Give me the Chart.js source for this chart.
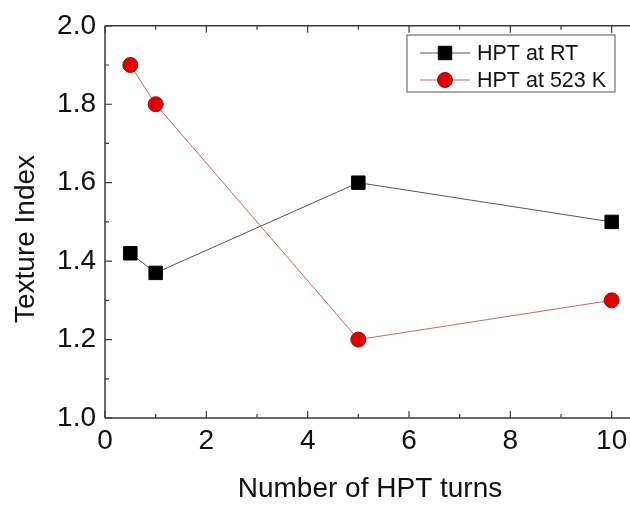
<!DOCTYPE html>
<html><head><meta charset="utf-8">
<script src="https://cdn.jsdelivr.net/npm/chart.js@4/dist/chart.umd.min.js"></script>
<style>
html,body{margin:0;padding:0;overflow:hidden;background:#fff;width:630px;height:506px}
#wrap{position:relative;width:660px;height:506px}
canvas{display:block}
</style>
</head><body><div id="wrap"><canvas id="c" width="660" height="506"></canvas></div>
<script>
const turns = [0.5, 1, 5, 10];
const textureRT = [1.42, 1.37, 1.6, 1.5];
const texture523K = [1.9, 1.8, 1.2, 1.3];
const seriesNames = ['HPT at RT', 'HPT at 523 K'];
const xTicks = [0, 2, 4, 6, 8, 10];
const yTicks = [1.0, 1.2, 1.4, 1.6, 1.8, 2.0];
const xTitle = 'Number of HPT turns';
const yTitle = 'Texture Index';

const FONT = "'Liberation Sans', Arial, sans-serif";
const AXIS = '#3a3a3a';

const toPts = (xs, ys) => xs.map((x, i) => ({x: x, y: ys[i]}));

const frame = {
  id: 'frame',
  afterDraw(chart) {
    const ctx = chart.ctx, a = chart.chartArea;
    const xs = chart.scales.x, ys = chart.scales.y;
    ctx.save();
    ctx.strokeStyle = AXIS;
    ctx.lineWidth = 1.5;
    ctx.beginPath();
    ctx.moveTo(a.left, a.top); ctx.lineTo(a.right, a.top);
    ctx.moveTo(a.left, a.top); ctx.lineTo(a.left, a.bottom);
    ctx.moveTo(a.left, a.bottom); ctx.lineTo(a.right, a.bottom);
    ctx.moveTo(a.right, a.top); ctx.lineTo(a.right, a.bottom);
    ctx.stroke();
    ctx.lineWidth = 1.2;
    ctx.beginPath();
    for (let i = 0; i < xTicks.length; i++) {
      const v = xTicks[i];
      const px = xs.getPixelForValue(v);
      ctx.moveTo(px, a.bottom); ctx.lineTo(px, a.bottom - 7);
      ctx.moveTo(px, a.top); ctx.lineTo(px, a.top + 7);
      if (i < xTicks.length - 1) {
        const m = xs.getPixelForValue((v + xTicks[i + 1]) / 2);
        ctx.moveTo(m, a.bottom); ctx.lineTo(m, a.bottom - 4);
        ctx.moveTo(m, a.top); ctx.lineTo(m, a.top + 4);
      }
    }
    for (let i = 0; i < yTicks.length; i++) {
      const v = yTicks[i];
      const py = ys.getPixelForValue(v);
      ctx.moveTo(a.left, py); ctx.lineTo(a.left + 7, py);
      if (i < yTicks.length - 1) {
        const m = ys.getPixelForValue((v + yTicks[i + 1]) / 2);
        ctx.moveTo(a.left, m); ctx.lineTo(a.left + 4, m);
      }
    }
    ctx.stroke();

    ctx.fillStyle = '#111';
    ctx.font = '28px ' + FONT;
    ctx.textAlign = 'center';
    ctx.textBaseline = 'middle';
    ctx.fillText(xTitle, 370, 489);
    ctx.save();
    ctx.translate(26, 239);
    ctx.rotate(-Math.PI / 2);
    ctx.fillText(yTitle, 0, 0);
    ctx.restore();

    const L = 407, T = 35, R = 615, B = 92;
    ctx.fillStyle = '#fff';
    ctx.fillRect(L, T, R - L, B - T);
    ctx.strokeStyle = '#555';
    ctx.lineWidth = 1;
    ctx.strokeRect(L, T, R - L, B - T);
    const rows = [53, 80];
    chart.data.datasets.forEach((ds, i) => {
      const y = rows[i];
      ctx.strokeStyle = ds.borderColor;
      ctx.lineWidth = ds.borderWidth;
      ctx.beginPath(); ctx.moveTo(420, y); ctx.lineTo(470, y); ctx.stroke();
      ctx.fillStyle = ds.pointBackgroundColor;
      ctx.strokeStyle = ds.pointBorderColor;
      ctx.lineWidth = ds.pointBorderWidth;
      ctx.beginPath();
      if (ds.pointStyle === 'rect') {
        const s = Math.SQRT1_2 * ds.pointRadius;
        ctx.rect(445 - s, y - s, 2 * s, 2 * s);
      } else {
        ctx.arc(445, y, ds.pointRadius, 0, Math.PI * 2);
      }
      ctx.fill(); ctx.stroke();
      ctx.fillStyle = '#111';
      ctx.font = '21.5px ' + FONT;
      ctx.textAlign = 'left';
      ctx.textBaseline = 'middle';
      ctx.fillText(ds.label, 477, y + 1);
    });
    ctx.restore();
  }
};

new Chart(document.getElementById('c'), {
  type: 'scatter',
  data: {
    datasets: [
      {
        label: seriesNames[0],
        data: toPts(turns, textureRT),
        showLine: true,
        borderColor: '#555555',
        borderWidth: 1,
        pointStyle: 'rect',
        pointRadius: 9.5,
        pointHoverRadius: 9.5,
        pointBackgroundColor: '#000',
        pointBorderColor: '#000',
        pointBorderWidth: 1
      },
      {
        label: seriesNames[1],
        data: toPts(turns, texture523K),
        showLine: true,
        borderColor: '#c86464',
        borderWidth: 1,
        pointStyle: 'circle',
        pointRadius: 7.5,
        pointHoverRadius: 7.5,
        pointBackgroundColor: '#e00000',
        pointBorderColor: '#8a1010',
        pointBorderWidth: 1
      }
    ]
  },
  options: {
    responsive: false,
    animation: false,
    devicePixelRatio: 1,
    layout: {padding: {left: 0, top: 23, right: 23, bottom: 0}},
    plugins: {legend: {display: false}, tooltip: {enabled: false}},
    scales: {
      x: {
        type: 'linear', min: 0, max: 10.5,
        afterFit(s) { s.height = 88; },
        afterBuildTicks(s) { s.ticks = xTicks.map(v => ({value: v})); },
        grid: {display: false, drawOnChartArea: false, drawTicks: false},
        border: {display: false},
        ticks: {
          color: '#111', padding: 6,
          font: {family: FONT, size: 28},
          callback: v => String(v)
        }
      },
      y: {
        type: 'linear', min: 1.0, max: 2.0,
        afterFit(s) { s.width = 105; },
        afterBuildTicks(s) { s.ticks = yTicks.map(v => ({value: v})); },
        grid: {display: false, drawOnChartArea: false, drawTicks: false},
        border: {display: false},
        ticks: {
          color: '#111', padding: 9,
          font: {family: FONT, size: 28},
          callback: v => Number(v).toFixed(1)
        }
      }
    }
  },
  plugins: [frame]
});
</script>
</body></html>
